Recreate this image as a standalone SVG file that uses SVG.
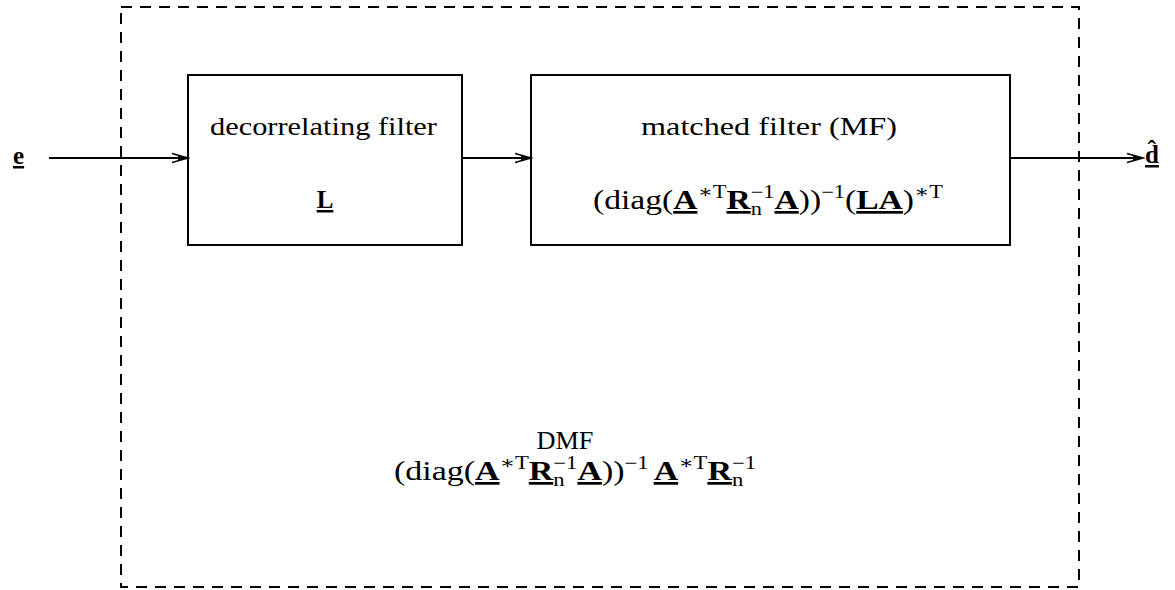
<svg xmlns="http://www.w3.org/2000/svg" width="1175" height="590" viewBox="0 0 1175 590">
<style>
text{font-family:"Liberation Serif","DejaVu Serif",serif;fill:#000;font-size:25px}
.f{font-size:27px}
.b{font-weight:bold;text-decoration:underline}
.s{font-size:18px}
.box{fill:#fff;stroke:#000;stroke-width:2}
.conn{stroke:#000;stroke-width:2;fill:none}
</style>
<defs>
<marker id="ah" markerUnits="userSpaceOnUse" markerWidth="20" markerHeight="12" refX="18" refY="6" orient="auto">
<path d="M2,1.5 L18,6 L2,10.5" fill="none" stroke="#000" stroke-width="1.5"/>
<path d="M8,3.5 L18,6 L8,8.5 Z" fill="#000"/>
</marker>
</defs>
<g id="dmf">
<rect x="121" y="7" width="958" height="580" fill="none" stroke="#000" stroke-width="2" stroke-dasharray="11,8"/>
<text x="565" y="449" text-anchor="middle" textLength="57" lengthAdjust="spacingAndGlyphs">DMF</text>
<text class="f" x="394" y="480" textLength="362" lengthAdjust="spacingAndGlyphs">(diag(<tspan class="b">A</tspan><tspan class="s" dy="-11">∗T</tspan><tspan class="b" dy="11">R</tspan><tspan class="s" dy="6">n</tspan><tspan class="s" dx="-9" dy="-17">−1</tspan><tspan class="b" dy="11">A</tspan>))<tspan class="s" dy="-11">−1</tspan><tspan class="b" dx="4" dy="11">A</tspan><tspan class="s" dy="-11">∗T</tspan><tspan class="b" dy="11">R</tspan><tspan class="s" dy="6">n</tspan><tspan class="s" dx="-9" dy="-17">−1</tspan></text>
</g>
<g id="in">
<text x="13" y="164" class="b" font-size="27">e</text>
</g>
<g id="decorr">
<rect class="box" x="188" y="75" width="274" height="170"/>
<text x="210" y="135" textLength="227" lengthAdjust="spacingAndGlyphs">decorrelating filter</text>
<text x="325" y="208" text-anchor="middle" class="b" font-size="27">L</text>
</g>
<g id="mf">
<rect class="box" x="531" y="75" width="479" height="170"/>
<text x="641" y="135" textLength="256" lengthAdjust="spacingAndGlyphs">matched filter (MF)</text>
<text class="f" x="593" y="209" textLength="350" lengthAdjust="spacingAndGlyphs">(diag(<tspan class="b">A</tspan><tspan class="s" dy="-11">∗T</tspan><tspan class="b" dy="11">R</tspan><tspan class="s" dy="6">n</tspan><tspan class="s" dx="-9" dy="-17">−1</tspan><tspan class="b" dy="11">A</tspan>))<tspan class="s" dy="-11">−1</tspan><tspan dy="11">(</tspan><tspan class="b">LA</tspan>)<tspan class="s" dy="-11">∗T</tspan></text>
</g>
<g id="out">
<text x="1145" y="163" class="b" font-size="27">d̂</text>
</g>
<g id="connectors">
<line class="conn" x1="49" y1="158" x2="188" y2="158" marker-end="url(#ah)"/>
<line class="conn" x1="462" y1="158" x2="531" y2="158" marker-end="url(#ah)"/>
<line class="conn" x1="1010" y1="158" x2="1143" y2="158" marker-end="url(#ah)"/>
</g>
</svg>
